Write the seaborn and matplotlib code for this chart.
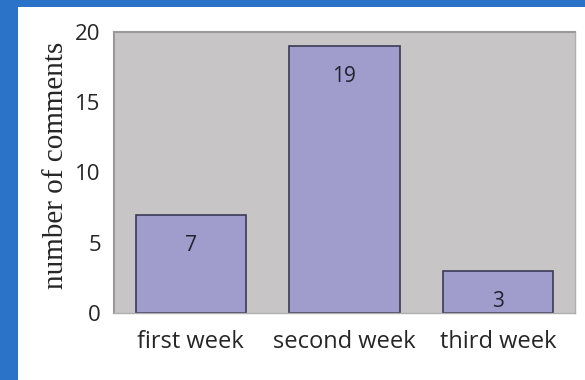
import matplotlib

matplotlib.use("Agg")
import matplotlib.pyplot as plt
import matplotlib.patches as mpatches
import pandas as pd
import seaborn as sns

weeks = ["first week", "second week", "third week"]
comments = [7, 19, 3]
y_ticks = [0, 5, 10, 15, 20]

BLUE = "#2a73c9"
PLOT_BG = "#c8c5c6"
BAR = "#a09ccc"
EDGE = "#3a3a55"
SANS = "Open Sans"

df = pd.DataFrame({"week": weeks, "comments": comments})

sns.set_style("white")
fig = plt.figure(figsize=(5.85, 3.8), dpi=100)
fig.patch.set_facecolor(BLUE)
# white card inside the blue frame (frame only on left and top)
fig.patches.append(
    mpatches.Rectangle((18 / 585, 0), 1, (380 - 7) / 380, transform=fig.transFigure,
                       facecolor="white", edgecolor="none", zorder=-10)
)

ax = fig.add_axes([114 / 585, 1 - 313 / 380, (575 - 114) / 585, (313 - 32) / 380])
ax.set_zorder(1)
ax.set_facecolor(PLOT_BG)
sns.barplot(data=df, x="week", y="comments", color=BAR, edgecolor=EDGE,
            linewidth=1.2, width=0.72, saturation=1, ax=ax)

for i, v in enumerate(comments):
    ax.annotate(str(v), (i, v), xytext=(0, -22), textcoords="offset points",
                ha="center", va="center", fontsize=15, family=SANS,
                color="#222233")

ax.set_ylim(0, 20)
ax.set_xlim(-0.5, 2.5)
ax.set_yticks(y_ticks)
ax.set_yticklabels([str(t) for t in y_ticks], family=SANS, fontsize=16)
ax.set_xticks(range(len(weeks)))
ax.set_xticklabels(weeks, family=SANS, fontsize=17)
ax.set_xticks([0.5, 1.5], minor=True)
ax.tick_params(axis="y", length=5, direction="inout", color="#a8a6a7", pad=7)
ax.tick_params(axis="x", which="major", length=0, pad=12)
ax.tick_params(axis="x", which="minor", length=4, direction="in", color="#b8b6b7")
ax.set_xlabel("")
ax.set_ylabel("number of comments", family="Liberation Serif", fontsize=21)
ax.yaxis.set_label_coords(-0.097, 0.525)

for side in ["top", "left"]:
    ax.spines[side].set_color("#9a9899")
    ax.spines[side].set_linewidth(1.5)
for side in ["bottom", "right"]:
    ax.spines[side].set_color("#b0aeaf")
    ax.spines[side].set_linewidth(1.0)

fig.savefig("out.png", dpi=100, facecolor=fig.get_facecolor())
